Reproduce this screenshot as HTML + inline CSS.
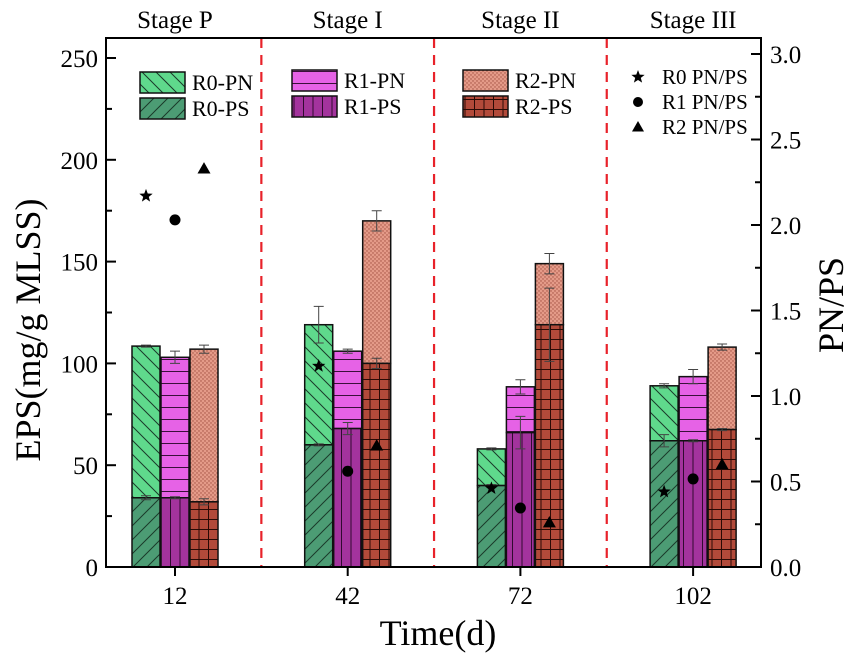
<!DOCTYPE html>
<html><head><meta charset="utf-8"><style>
body{margin:0;background:#fff}
svg{display:block;font-family:"Liberation Serif",serif}
</style></head><body>
<svg id="chart" width="855" height="662" viewBox="0 0 855 662">
<defs>
<pattern id="pBack" width="14" height="14" patternUnits="userSpaceOnUse"><rect width="14" height="14" fill="#5fd98c"/><path d="M0,0L14,14M-7,7L7,21M7,-7L21,7" stroke="#1a3a2a" stroke-width="1"/></pattern>
<pattern id="pFwd" width="14" height="14" patternUnits="userSpaceOnUse"><rect width="14" height="14" fill="#4c9c74"/><path d="M0,14L14,0M-7,7L7,-7M7,21L21,7" stroke="#1a3a2a" stroke-width="1"/></pattern>
<pattern id="pHor" width="10" height="12" patternUnits="userSpaceOnUse"><rect width="10" height="12" fill="#e662e6"/><path d="M0,11.5H10" stroke="#3a103a" stroke-width="1"/></pattern>
<pattern id="pVer" width="9.5" height="10" patternUnits="userSpaceOnUse"><rect width="9.5" height="10" fill="#a3339d"/><path d="M9,0V10" stroke="#300a30" stroke-width="1"/></pattern>
<pattern id="pDot" width="4" height="4" patternUnits="userSpaceOnUse"><rect width="4" height="4" fill="#e49a88"/><circle cx="1" cy="1" r="0.7" fill="#a05040"/><circle cx="3" cy="3" r="0.7" fill="#a05040"/></pattern>
<pattern id="pGrid" width="9.5" height="10" patternUnits="userSpaceOnUse"><rect width="9.5" height="10" fill="#b24a3a"/><path d="M9,0V10M0,9.5H9.5" stroke="#2a0a05" stroke-width="1"/></pattern>
</defs>
<g id="g"></g>
</svg>
<script>
const categories=["12","42","72","102"];
const stages=["Stage P","Stage I","Stage II","Stage III"];
const r0PS=[34,60,40,62];
const r0Total=[108.5,119,58,89];
const r1PS=[34,68,66,62];
const r1Total=[103,106,88.5,93.5];
const r2PS=[32,100,119,67.5];
const r2Total=[107,170,149,108];
const r0PSErr=[1,0.5,0.5,3];
const r1PSErr=[0.5,3,8,0.5];
const r2PSErr=[1.5,2.5,18,0.5];
const r0TotErr=[0.5,9,0.5,1];
const r1TotErr=[3,1,3.5,3.5];
const r2TotErr=[2,5,5,1.5];
const r0Ratio=[2.17,1.175,0.46,0.44];
const r1Ratio=[2.03,0.56,0.345,0.515];
const r2Ratio=[2.33,0.71,0.26,0.6];
const leftTicks=[0,50,100,150,200,250];
const rightTicks=[0.0,0.5,1.0,1.5,2.0,2.5,3.0];

const NS="http://www.w3.org/2000/svg";
const g=document.getElementById('g');
const L=106,R=761,T=38,B=567;
const yL=v=>B-v*(B-58)/250;
const yR=v=>B-v*(B-54)/3;
const xC=i=>175+i*172.7;
function el(tag,attrs,parent){const e=document.createElementNS(NS,tag);for(const k in attrs)e.setAttribute(k,attrs[k]);(parent||g).appendChild(e);return e;}
function txt(s,attrs){const t=el('text',attrs);t.textContent=s;return t;}

[0,1,2].forEach(i=>{const x=(xC(i)+xC(i+1))/2;
const l=el('line',{x1:x,y1:T,x2:x,y2:B,stroke:'#e8222a','stroke-width':2.2,'stroke-dasharray':'10,7'});

});

const series=[
 {ps:r0PS,tot:r0Total,pe:r0PSErr,te:r0TotErr,fp:'url(#pFwd)',fn:'url(#pBack)',off:-29,n:'r0'},
 {ps:r1PS,tot:r1Total,pe:r1PSErr,te:r1TotErr,fp:'url(#pVer)',fn:'url(#pHor)',off:0,n:'r1'},
 {ps:r2PS,tot:r2Total,pe:r2PSErr,te:r2TotErr,fp:'url(#pGrid)',fn:'url(#pDot)',off:29,n:'r2'}];
function err(x,v,e){const p=el('path',{d:`M${x},${yL(v+e)}V${yL(v-e)}M${x-5},${yL(v+e)}H${x+5}M${x-5},${yL(v-e)}H${x+5}`,stroke:'#444','stroke-width':1,fill:'none'});

}
categories.forEach((c,i)=>{series.forEach(s=>{
 const x=xC(i)+s.off,w=28;
 const a=el('rect',{x:x-w/2,y:yL(s.tot[i]),width:w,height:yL(s.ps[i])-yL(s.tot[i]),fill:s.fn,stroke:'#111','stroke-width':1.5});
 
 
 const b=el('rect',{x:x-w/2,y:yL(s.ps[i]),width:w,height:B-yL(s.ps[i]),fill:s.fp,stroke:'#111','stroke-width':1.5});
 
 
 err(x,s.tot[i],s.te[i]);err(x,s.ps[i],s.pe[i]);
});});
function star(cx,cy,r){let d='';for(let k=0;k<10;k++){const a=-Math.PI/2+k*Math.PI/5,rr=k%2?r*0.42:r;d+=(k?'L':'M')+(cx+rr*Math.cos(a))+','+(cy+rr*Math.sin(a));}return el('path',{d:d+'Z',fill:'#000'});}
function tri(cx,cy,r){return el('path',{d:`M${cx},${cy-r}L${cx+r},${cy+r*0.75}L${cx-r},${cy+r*0.75}Z`,fill:'#000'});}
categories.forEach((c,i)=>{
 const a=star(xC(i)-29,yR(r0Ratio[i]),7);
 const b=el('circle',{cx:xC(i),cy:yR(r1Ratio[i]),r:5.5,fill:'#000'});
 const d=tri(xC(i)+29,yR(r2Ratio[i]),6.5);
});
const f=el('rect',{x:L,y:T,width:R-L,height:B-T,fill:'none',stroke:'#000','stroke-width':2});


leftTicks.forEach(v=>{el('line',{x1:L,y1:yL(v),x2:L+10,y2:yL(v),stroke:'#000','stroke-width':2});
 const t=txt(v,{x:L-8,y:yL(v)+9,'text-anchor':'end','font-size':25});
 
 });
for(let v=25;v<250;v+=50)el('line',{x1:L,y1:yL(v),x2:L+6,y2:yL(v),stroke:'#000','stroke-width':2});
rightTicks.forEach(v=>{el('line',{x1:R-10,y1:yR(v),x2:R,y2:yR(v),stroke:'#000','stroke-width':2});
 const t=txt(v.toFixed(1),{x:R+9,y:yR(v)+9,'font-size':25});
 
 });
for(let v=0.25;v<3;v+=0.5)el('line',{x1:R-6,y1:yR(v),x2:R,y2:yR(v),stroke:'#000','stroke-width':2});
categories.forEach((c,i)=>{el('line',{x1:xC(i),y1:B,x2:xC(i),y2:B+9,stroke:'#000','stroke-width':2});
 const t=txt(c,{x:xC(i),y:B+37,'text-anchor':'middle','font-size':25});
 
 
 const s=txt(stages[i],{x:xC(i),y:28,'text-anchor':'middle','font-size':25});
 
 });
const xt=txt('Time(d)',{x:438,y:645,'text-anchor':'middle','font-size':36});

const yt=txt('EPS(mg/g MLSS)',{x:0,y:0,'text-anchor':'middle','font-size':36,transform:'translate(40,330) rotate(-90)'});

const y2=txt('PN/PS',{x:0,y:0,'text-anchor':'middle','font-size':36,transform:'translate(843,305) rotate(-90)'});

const leg=[[140,72,'url(#pBack)','R0-PN'],[140,98,'url(#pFwd)','R0-PS'],[292,70,'url(#pHor)','R1-PN'],[292,96,'url(#pVer)','R1-PS'],[463,70,'url(#pDot)','R2-PN'],[463,96,'url(#pGrid)','R2-PS']];
leg.forEach(l=>{const r=el('rect',{x:l[0],y:l[1],width:45,height:21,fill:l[2],stroke:'#111','stroke-width':1.5});
 
 const t=txt(l[3],{x:l[0]+52,y:l[1]+18,'font-size':22});
 });
['R0 PN/PS','R1 PN/PS','R2 PN/PS'].forEach((s,k)=>{const y=77+k*25;
 let m; if(k==0)m=star(638,y,7);else if(k==1)m=el('circle',{cx:638,cy:y,r:5,fill:'#000'});else m=tri(638,y,6);
 
 const t=txt(s,{x:662,y:y+7,'font-size':21});
 });
</script>
</body></html>
